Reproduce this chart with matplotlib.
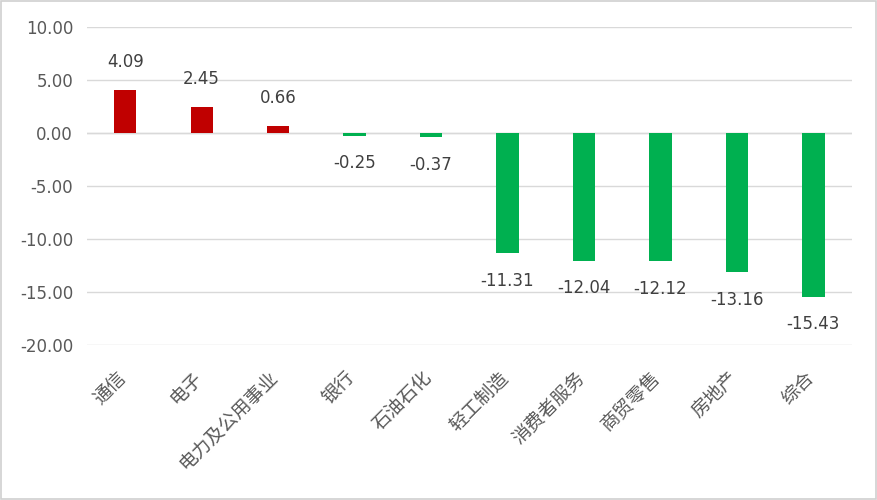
import matplotlib.pyplot as plt
import matplotlib.transforms as mtransforms
from matplotlib.patches import Rectangle

plt.rcParams['font.family'] = ['Noto Sans CJK SC', 'DejaVu Sans']

# --- dati ---
categories = ['通信', '电子', '电力及公用事业', '银行', '石油石化',
              '轻工制造', '消费者服务', '商贸零售', '房地产', '综合']
values = [4.09, 2.45, 0.66, -0.25, -0.37, -11.31, -12.04, -12.12, -13.16, -15.43]
yticks = [10, 5, 0, -5, -10, -15, -20]

RED = '#C00000'
GREEN = '#00B050'
TEXT = '#595959'

fig = plt.figure(figsize=(8.78, 5.0), dpi=100)
ax = fig.add_axes([0.099, 0.31, 0.871, 0.636])

x = range(len(categories))
colors = [RED if v >= 0 else GREEN for v in values]
ax.bar(x, values, width=0.29, color=colors, zorder=3)

# etichette dati fuori dalla fine della barra
for xi, v in zip(x, values):
    off = 13.5 if v >= 0 else -13.5
    ax.annotate(f'{v:.2f}', (xi, v), xytext=(0, off), textcoords='offset points',
                ha='center', va='bottom' if v >= 0 else 'top',
                fontsize=12, color='#404040', family='DejaVu Sans')

ax.set_ylim(-20, 10)
ax.set_xlim(-0.5, len(categories) - 0.5)
ax.set_yticks(yticks)
ax.set_yticklabels([f'{t:.2f}' for t in yticks], fontsize=12, color=TEXT,
                   family='DejaVu Sans')
ax.set_xticks(list(x))
ax.set_xticklabels(categories, rotation=45, ha='right', rotation_mode='anchor',
                   fontsize=13.5, color=TEXT)
ax.tick_params(axis='both', length=0)
ax.tick_params(axis='y', pad=10)
ax.tick_params(axis='x', pad=16)

# sposta un po' a sinistra le etichette ruotate (come in Excel)
shift = mtransforms.ScaledTranslation(-0.1, 0, fig.dpi_scale_trans)
for lbl in ax.get_xticklabels():
    lbl.set_transform(lbl.get_transform() + shift)

ax.grid(axis='y', color='#D9D9D9', linewidth=1, zorder=0)
ax.axhline(0, color='#D9D9D9', linewidth=1, zorder=1)
for s in ax.spines.values():
    s.set_visible(False)

# cornice grigia esterna
fig.patches.append(Rectangle((0.001, 0.002), 0.997, 0.996, transform=fig.transFigure,
                             fill=False, edgecolor='#D0D0D0', linewidth=1.2))

fig.savefig('out.png', dpi=100)
